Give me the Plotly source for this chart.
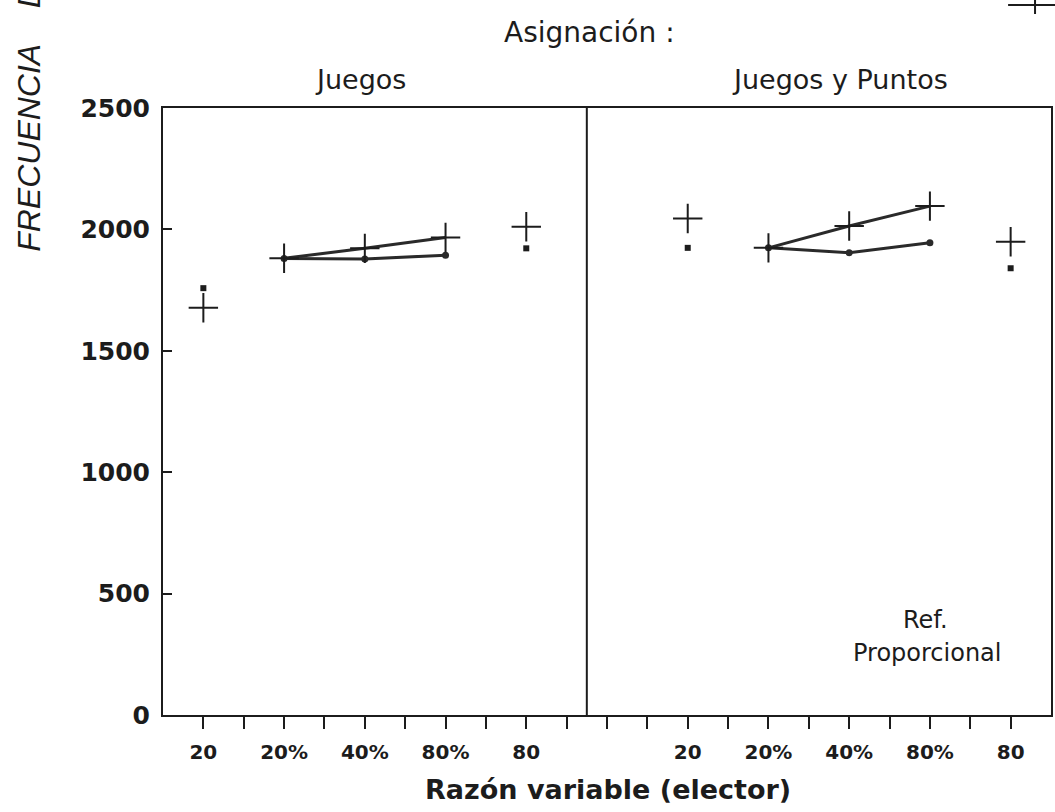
import plotly.graph_objects as go

# ---- data ----
categories = ["20", "20%", "40%", "80%", "80"]
panels = ["Juegos", "Juegos y Puntos"]
juegos_cross = [1677, 1881, 1922, 1967, 2011]
juegos_square = [1758, 1880, 1878, 1894, 1922]
jyp_cross = [2045, 1924, 2014, 2096, 1949]
jyp_square = [1924, 1924, 1904, 1945, 1840]

INK = "#1c1c1c"
panel_start = [1, 13]
series = [(juegos_cross, juegos_square), (jyp_cross, jyp_square)]

fig = go.Figure()
for p, (cross, square) in enumerate(series):
    xs = [panel_start[p] + 2 * i for i in range(len(categories))]
    iso = [0, 4]
    mid = [1, 2, 3]
    # isolated reference points
    fig.add_trace(go.Scatter(
        x=[xs[i] for i in iso], y=[cross[i] for i in iso], mode="markers",
        marker=dict(symbol="cross-thin", size=21, line=dict(width=2, color=INK)),
        showlegend=False, hoverinfo="skip"))
    fig.add_trace(go.Scatter(
        x=[xs[i] for i in iso], y=[square[i] for i in iso], mode="markers",
        marker=dict(symbol="square", size=6, color=INK),
        showlegend=False, hoverinfo="skip"))
    # connected series
    fig.add_trace(go.Scatter(
        x=[xs[i] for i in mid], y=[square[i] for i in mid], mode="lines+markers",
        line=dict(color="#2a2a2a", width=3),
        marker=dict(symbol="circle", size=7, color="#2a2a2a"),
        showlegend=False, hoverinfo="skip"))
    fig.add_trace(go.Scatter(
        x=[xs[i] for i in mid], y=[cross[i] for i in mid], mode="lines+markers",
        line=dict(color="#2a2a2a", width=3),
        marker=dict(symbol="cross-thin", size=21, line=dict(width=2, color=INK)),
        showlegend=False, hoverinfo="skip"))

# tick marks at every unit, labels only at category positions
tickvals = list(range(1, 22))
label_map = {}
for p in range(2):
    for i, c in enumerate(categories):
        label_map[panel_start[p] + 2 * i] = c
ticktext = [label_map.get(v, "") for v in tickvals]

fig.update_layout(
    width=1055, height=812,
    margin=dict(l=163, r=2, t=108, b=97),
    paper_bgcolor="white", plot_bgcolor="white",
    xaxis=dict(range=[0, 22], tickvals=tickvals, ticktext=ticktext,
               ticks="outside", ticklen=12, tickwidth=2, tickcolor=INK,
               showline=True, linecolor=INK, linewidth=2, mirror=True,
               showgrid=False, zeroline=False, ticklabelstandoff=6,
               tickfont=dict(family="DejaVu Sans", size=20, color=INK, weight="bold")),
    yaxis=dict(range=[0, 2500], tickvals=[0, 500, 1000, 1500, 2000, 2500],
               ticks="inside", ticklen=9, tickwidth=2, tickcolor=INK,
               showline=True, linecolor=INK, linewidth=2, mirror=True,
               showgrid=False, zeroline=False, ticklabelstandoff=6,
               tickfont=dict(family="DejaVu Sans", size=25, color=INK, weight="bold")),
    shapes=[
        dict(type="line", xref="x", yref="paper", x0=10.5, x1=10.5, y0=0, y1=1,
             line=dict(color=INK, width=2)),
        # partial legend cross at top-right corner
        dict(type="line", xref="paper", yref="paper",
             x0=(1010 - 163) / 890, x1=(1060 - 163) / 890,
             y0=(715 - 5) / 607, y1=(715 - 5) / 607, line=dict(color=INK, width=2)),
        dict(type="line", xref="paper", yref="paper",
             x0=(1037 - 163) / 890, x1=(1037 - 163) / 890,
             y0=(715 + 5) / 607, y1=(715 - 14) / 607, line=dict(color=INK, width=2)),
    ],
)

def ann(text, px, py, size, weight="normal", family="DejaVu Sans", **kw):
    opts = dict(xanchor="center", yanchor="middle")
    opts.update(kw)
    fig.add_annotation(text=text, xref="paper", yref="paper",
                       x=(px - 163) / 890, y=(715 - py) / 607, showarrow=False,
                       font=dict(family=family, size=size, color=INK, weight=weight), **opts)

ann("Asignación :", 590, 33, 28)
ann(panels[0], 361, 80, 27)
ann(panels[1], 842, 80, 27)
ann("Ref.", 927, 620, 24)
ann("Proporcional", 929, 653, 24)
ann("Razón variable (elector)", 609, 790, 27, weight="bold")
ann("FRECUENCIA&nbsp;&nbsp;&nbsp;&nbsp;DE", 28, 254, 32, family="Liberation Sans",
    textangle=-90, yanchor="bottom")
fig.layout.annotations[-1].font.style = "italic"

fig.write_html("out.html")
